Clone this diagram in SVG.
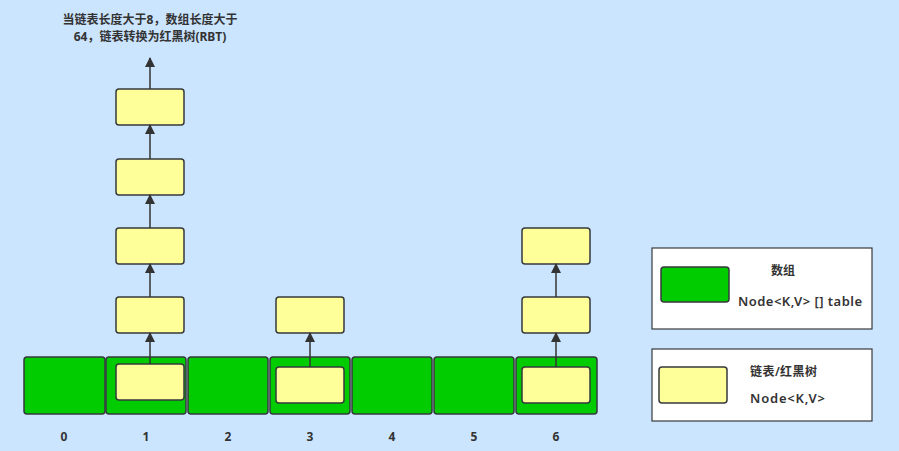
<svg xmlns="http://www.w3.org/2000/svg" width="899" height="451" viewBox="0 0 899 451">
<defs>
<marker id="ah" viewBox="0 0 10 10" refX="9" refY="5" markerWidth="10" markerHeight="10" markerUnits="userSpaceOnUse" orient="auto">
<path d="M0,0 L10,5 L0,10 Z" fill="#333333"/>
</marker>
</defs>
<style>
.cell{fill:#00CC00;stroke:#36393d;stroke-width:1.5}
.node{fill:#FFFF99;stroke:#36393d;stroke-width:1.5}
.leg{fill:#ffffff;stroke:#36393d;stroke-width:1.2}
.conn{stroke:#333333;stroke-width:1.5;fill:none;marker-end:url(#ah)}
.t{font-family:"Noto Sans","Noto Sans CJK SC",sans-serif;fill:#333333;font-size:12px}
.b{font-weight:bold}
.m{font-weight:600;font-size:13px}
</style>
<rect width="899" height="451" fill="#CCE5FF"/>
<g id="title"><text class="t b" x="150" y="24" text-anchor="middle">当链表长度大于8，数组长度大于</text>
<text class="t b" x="150" y="41" text-anchor="middle">64，链表转换为红黑树(RBT)</text></g>
<g id="array">
<g id="cell0"><rect class="cell" x="24" y="357" width="81" height="57" rx="3"/><text class="t b" x="64" y="441" text-anchor="middle">0</text></g>
<g id="cell1"><rect class="cell" x="106" y="357" width="80" height="57" rx="3"/><text class="t b" x="146" y="441" text-anchor="middle">1</text></g>
<g id="cell2"><rect class="cell" x="188" y="357" width="80" height="57" rx="3"/><text class="t b" x="228" y="441" text-anchor="middle">2</text></g>
<g id="cell3"><rect class="cell" x="270" y="357" width="80" height="57" rx="3"/><text class="t b" x="310" y="441" text-anchor="middle">3</text></g>
<g id="cell4"><rect class="cell" x="352" y="357" width="80" height="57" rx="3"/><text class="t b" x="392" y="441" text-anchor="middle">4</text></g>
<g id="cell5"><rect class="cell" x="434" y="357" width="80" height="57" rx="3"/><text class="t b" x="474" y="441" text-anchor="middle">5</text></g>
<g id="cell6"><rect class="cell" x="516" y="357" width="81" height="57" rx="3"/><text class="t b" x="556" y="441" text-anchor="middle">6</text></g>
</g>
<g id="n1a"><rect class="node" x="116" y="364" width="68" height="36" rx="3"/></g>
<g id="n1b"><rect class="node" x="116" y="297" width="68" height="36" rx="3"/></g>
<g id="n1c"><rect class="node" x="116" y="228" width="68" height="36" rx="3"/></g>
<g id="n1d"><rect class="node" x="116" y="159" width="68" height="36" rx="3"/></g>
<g id="n1e"><rect class="node" x="116" y="89" width="68" height="36" rx="3"/></g>
<g id="n3a"><rect class="node" x="276" y="367" width="68" height="36" rx="3"/></g>
<g id="n3b"><rect class="node" x="276" y="297" width="68" height="36" rx="3"/></g>
<g id="n6a"><rect class="node" x="522" y="367" width="68" height="36" rx="3"/></g>
<g id="n6b"><rect class="node" x="522" y="297" width="68" height="36" rx="3"/></g>
<g id="n6c"><rect class="node" x="522" y="228" width="68" height="36" rx="3"/></g>
<g id="connectors">
<line class="conn" x1="150" y1="364" x2="150" y2="333"/>
<line class="conn" x1="150" y1="297" x2="150" y2="264"/>
<line class="conn" x1="150" y1="228" x2="150" y2="195"/>
<line class="conn" x1="150" y1="159" x2="150" y2="125"/>
<line class="conn" x1="150" y1="89" x2="150" y2="58"/>
<line class="conn" x1="310" y1="367" x2="310" y2="333"/>
<line class="conn" x1="556" y1="367" x2="556" y2="333"/>
<line class="conn" x1="556" y1="297" x2="556" y2="264"/>
</g>
<g id="legend-array">
<rect class="leg" x="652" y="248" width="220" height="81"/>
<rect class="cell" x="661" y="267" width="68" height="35" rx="3"/>
<text class="t" x="783" y="275" text-anchor="middle" font-weight="600">数组</text>
<text class="t m" x="738" y="306" textLength="124" lengthAdjust="spacing">Node&lt;K,V&gt; [] table</text>
</g>
<g id="legend-list">
<rect class="leg" x="652" y="349" width="220" height="72"/>
<rect class="node" x="659" y="367" width="68" height="36" rx="3"/>
<text class="t" x="750" y="376" font-weight="600" textLength="67" lengthAdjust="spacing">链表/红黑树</text>
<text class="t m" x="750" y="403" textLength="75" lengthAdjust="spacing">Node&lt;K,V&gt;</text>
</g>
</svg>
